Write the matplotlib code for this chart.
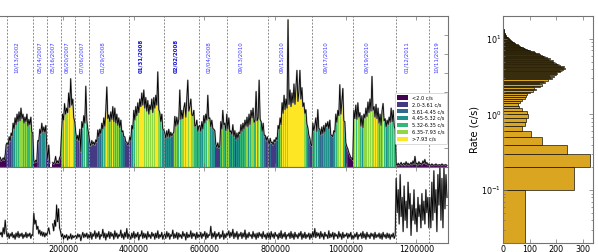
import numpy as np
import matplotlib
matplotlib.use("Agg")
import matplotlib.pyplot as plt
from matplotlib.patches import Patch

# ---------------- data ----------------
seg_starts = [0, 39700, 115000, 154700, 193500, 234000, 273700, 387000,
              486100, 585300, 664600, 779100, 905400, 1021600, 1141700, 1236900]
t_end = 1288400
seg_labels = ["03/07/2001", "10/13/2002", "05/14/2007", "05/16/2007", "06/20/2007",
              "07/06/2007", "01/29/2008", "01/31/2008", "02/02/2008", "02/04/2008",
              "09/13/2010", "09/15/2010", "09/17/2010", "09/19/2010", "01/12/2011",
              "10/11/2019"]
bold_labels = ["01/31/2008", "02/02/2008"]

nan = float("nan")
# count rate (c/s) per time bin, one list per observation
rate_s00 = [1.2, 0.8, 1.3, 0.9, 1.4, 0.8, 1.1, 1.3, 0.8, 1.0, 1.2, 0.9, 1.6, 3.0]
rate_s01 = [3.2, 2.9, 4.0, 3.4, 4.5, 4.1, 5.8, 5.0, 6.5, 5.6, 7.0, 6.0, 7.3, 6.1,
            7.8, 6.4, 7.0, 5.8, 6.6, 6.0, 7.0, 5.4, 6.3, 5.6, 6.6, 4.6, 4.5]
rate_s02 = [0.8, 0.6, 0.9, 0.7, 3.5, 3.4, 5.0, 4.4, 5.8, 4.6, 5.3, 4.6, 5.5, 2.5]
rate_s03 = [1.0, 2.9, 0.5, nan, nan, 0.6, 0.4, 0.7, 1.4, 0.5, 0.8, 0.5, 1.2, 1.5]
rate_s04 = [4.5, 7.0, 6.2, 8.4, 7.0, 7.8, 7.2, 9.8, 7.9, 11.7, 8.2, 9.0, 6.5, 6.0]
rate_s05 = [4.5, 3.6, 4.2, 3.4, 5.0, 2.0, 6.0, 5.2, 6.8, 5.8, 10.7, 6.2, 5.0, 4.2]
rate_s06 = [3.2, 2.8, 3.5, 3.0, 3.3, 2.9, 3.6, 3.3, 4.9, 4.0, 5.0, 4.4, 5.8, 5.0,
            6.5, 5.4, 7.5, 10.6, 6.4, 6.9, 6.0, 7.3, 6.3, 8.0, 6.0, 7.8, 5.8, 7.0,
            5.5, 6.5, 5.2, 6.2, 4.6, 4.8, 4.0, 4.0, 3.3, 3.3, 2.9, 3.2]
rate_s07 = [4.0, 3.5, 5.5, 5.0, 7.5, 6.2, 8.0, 6.8, 8.5, 7.2, 9.0, 8.0, 9.8, 8.2,
            10.2, 7.8, 9.2, 7.4, 8.8, 7.0, 8.2, 7.6, 9.0, 7.2, 9.2, 7.8, 9.5, 8.2,
            12.6, 7.6, 7.2, 6.0, 7.0, 5.0, 4.9]
rate_s08 = [4.5, 3.8, 4.8, 4.0, 5.0, 3.9, 4.6, 4.1, 4.4, 4.6, 6.7, 5.4, 6.6, 5.6,
            6.3, 10.2, 6.3, 7.5, 6.4, 7.8, 8.5, 6.6, 9.0, 11.5, 7.4, 8.0, 9.0, 6.9,
            6.8, 7.5, 5.4, 5.5, 6.2, 4.7, 5.4]
rate_s09 = [5.5, 4.7, 6.0, 5.0, 6.8, 5.8, 7.0, 6.2, 9.5, 6.4, 6.5, 5.3, 6.2, 5.1,
            5.0, 4.8, 3.0, 2.6, 3.2, 2.5, 2.8, 6.0, 5.0, 7.5, 5.6, 5.8, 4.8, 7.0]
rate_s10 = [5.0, 6.5, 4.6, 4.8, 4.3, 5.6, 4.0, 4.8, 3.6, 4.5, 3.8, 4.6, 4.4, 5.6,
            4.7, 5.8, 5.0, 6.2, 5.4, 6.6, 5.3, 7.0, 5.6, 7.5, 6.5, 7.8, 5.9, 6.2,
            10.0, 6.1, 6.5, 11.5, 6.3, 6.0, 4.7, 5.8, 4.2, 4.2, 3.5, 4.0]
rate_s11 = [3.5, 3.0, 3.8, 3.2, 3.3, 2.9, 3.6, 3.3, 3.9, 3.6, 5.5, 5.0, 6.5, 5.6,
            8.5, 7.1, 9.5, 7.6, 9.0, 7.8, 19.5, 8.3, 10.2, 8.0, 9.8, 8.5, 11.0, 8.3,
            10.5, 12.8, 8.7, 10.0, 12.8, 9.0, 10.5, 8.0, 8.5, 7.1, 7.6, 5.7, 5.2,
            4.2, 3.8, 3.0, 2.8]
rate_s12 = [5.8, 4.8, 5.5, 6.5, 4.7, 7.6, 5.1, 5.0, 4.2, 5.3, 4.4, 5.5, 4.6, 5.8,
            5.3, 6.0, 5.0, 6.2, 4.2, 4.2, 4.0, 4.8, 4.6, 7.0, 5.9, 7.5, 6.8, 10.9,
            7.0, 8.5, 10.4, 6.1, 6.0, 3.2, 2.7, 2.4, 1.9, 1.6, 1.2, 1.2, 0.9]
rate_s13 = [7.5, 6.4, 8.2, 6.3, 8.5, 6.6, 7.2, 5.4, 6.8, 5.2, 7.0, 6.5, 7.8, 6.7,
            8.6, 7.2, 9.0, 7.4, 12.0, 7.5, 8.0, 6.6, 8.3, 6.4, 7.8, 5.8, 7.0, 5.5,
            7.5, 8.4, 6.1, 6.4, 5.3, 6.2, 5.6, 6.6, 5.9, 7.8, 6.0, 7.5, 5.4, 5.0]
rate_s14 = [0.4, 0.2, 0.5, 0.2, 0.4, 0.6, 0.2, 0.4, 0.5, 0.2, 0.7, 0.3, 0.5, 0.2,
            0.4, 0.6, 0.3, 0.8, 0.4, 1.4, 0.4, 0.5, 0.3, 0.7, 0.4, 0.5, 0.3, 0.8,
            0.5, 1.0, 0.4, 0.6, 0.3, 0.4]
rate_s15 = [0.3, 0.2, 0.4, 0.3, 0.2, 0.3, 0.4, 0.3, 0.2, 0.3, 0.3, 0.2, 0.4, 0.3,
            0.2, 0.3, 0.3, 0.2]

# lower panel quantity (arbitrary units), same time bins
ratio_s00 = [0.10, 0.15, 0.08, 0.18, 0.12, 0.09, 0.16, 0.11, 0.14, 0.08, 0.20, 0.12, 0.30, 0.15]
ratio_s01 = [0.08, 0.13, 0.06, 0.12, 0.09, 0.14, 0.07, 0.11, 0.05, 0.13, 0.08, 0.15, 0.07, 0.12,
             0.09, 0.13, 0.06, 0.11, 0.08, 0.14, 0.07, 0.12, 0.09, 0.13, 0.06, 0.11, 0.10]
ratio_s02 = [0.39, 0.25, 0.30, 0.18, 0.22, 0.12, 0.17, 0.10, 0.15, 0.09, 0.14, 0.08, 0.13, 0.10]
ratio_s03 = [0.15, 0.20, 0.12, nan, nan, 0.25, 0.16, 0.30, 0.22, 0.50, 0.28, 0.45, 0.20, 0.15]
ratio_s04 = [0.08, 0.12, 0.05, 0.10, 0.07, 0.11, 0.04, 0.09, 0.06, 0.12, 0.05, 0.10, 0.07, 0.09]
ratio_s05 = [0.10, 0.06, 0.12, 0.08, 0.11, 0.03, 0.09, 0.14, 0.07, 0.12, 0.08, 0.13, 0.06, 0.11]
ratio_s06 = [0.07, 0.14, 0.05, 0.12, 0.09, 0.16, 0.06, 0.13, 0.08, 0.15, 0.05, 0.11, 0.09, 0.18,
             0.07, 0.13, 0.04, 0.12, 0.08, 0.15, 0.06, 0.14, 0.09, 0.12, 0.05, 0.16, 0.08, 0.13,
             0.06, 0.11, 0.09, 0.17, 0.07, 0.12, 0.05, 0.14, 0.08, 0.19, 0.06, 0.12]
ratio_s07 = [0.09, 0.05, 0.13, 0.07, 0.15, 0.06, 0.12, 0.08, 0.14, 0.04, 0.11, 0.09, 0.16, 0.06,
             0.13, 0.07, 0.12, 0.05, 0.15, 0.08, 0.11, 0.06, 0.14, 0.09, 0.12, 0.05, 0.13, 0.07,
             0.16, 0.06, 0.11, 0.08, 0.14, 0.05, 0.10]
ratio_s08 = [0.12, 0.06, 0.15, 0.08, 0.13, 0.05, 0.11, 0.09, 0.17, 0.06, 0.12, 0.07, 0.14, 0.05,
             0.13, 0.08, 0.11, 0.06, 0.15, 0.09, 0.12, 0.04, 0.14, 0.07, 0.11, 0.08, 0.16, 0.06,
             0.13, 0.09, 0.12, 0.05, 0.14, 0.07, 0.11]
ratio_s09 = [0.08, 0.14, 0.06, 0.12, 0.09, 0.15, 0.05, 0.13, 0.07, 0.11, 0.10, 0.22, 0.06, 0.13,
             0.08, 0.15, 0.05, 0.12, 0.09, 0.14, 0.06, 0.11, 0.08, 0.16, 0.05, 0.12, 0.07, 0.13]
ratio_s10 = [0.10, 0.16, 0.07, 0.14, 0.09, 0.18, 0.06, 0.13, 0.08, 0.15, 0.05, 0.12, 0.09, 0.14,
             0.06, 0.13, 0.08, 0.17, 0.05, 0.12, 0.07, 0.14, 0.09, 0.11, 0.06, 0.15, 0.08, 0.12,
             0.05, 0.13, 0.07, 0.14, 0.09, 0.12, 0.06, 0.15, 0.08, 0.11, 0.05, 0.13]
ratio_s11 = [0.07, 0.13, 0.05, 0.15, 0.08, 0.12, 0.06, 0.14, 0.09, 0.11, 0.05, 0.13, 0.07, 0.16,
             0.06, 0.12, 0.08, 0.14, 0.05, 0.11, 0.09, 0.13, 0.06, 0.15, 0.07, 0.12, 0.05, 0.14,
             0.08, 0.11, 0.06, 0.13, 0.09, 0.15, 0.05, 0.12, 0.07, 0.14, 0.06, 0.11, 0.08, 0.13,
             0.05, 0.12, 0.07]
ratio_s12 = [0.15, 0.08, 0.19, 0.07, 0.14, 0.09, 0.13, 0.06, 0.15, 0.08, 0.12, 0.05, 0.14, 0.09,
             0.11, 0.06, 0.16, 0.07, 0.12, 0.08, 0.14, 0.05, 0.13, 0.09, 0.11, 0.06, 0.15, 0.08,
             0.12, 0.05, 0.14, 0.07, 0.11, 0.09, 0.13, 0.06, 0.12, 0.08, 0.14, 0.05, 0.10]
ratio_s13 = [0.06, 0.12, 0.08, 0.14, 0.05, 0.11, 0.09, 0.13, 0.06, 0.15, 0.07, 0.12, 0.05, 0.14,
             0.08, 0.11, 0.06, 0.13, 0.09, 0.12, 0.05, 0.14, 0.07, 0.11, 0.08, 0.13, 0.06, 0.12,
             0.05, 0.14, 0.08, 0.11, 0.06, 0.13, 0.07, 0.12, 0.05, 0.11, 0.08, 0.13, 0.06, 0.10]
ratio_s14 = [0.85, 0.40, 0.70, 0.25, 0.90, 0.35, 0.60, 0.15, 0.75, 0.30, 0.55, 0.20, 0.80, 0.45,
             0.65, 0.10, 0.50, 0.30, 0.70, 0.25, 0.45, 0.15, 0.60, 0.35, 0.50, 0.20, 0.65, 0.30,
             0.55, 0.25, 0.70, 0.40, 0.60, 0.20]
ratio_s15 = [0.60, 0.20, 0.80, 0.30, 0.95, 0.40, 0.70, 0.15, 0.90, 0.50, 1.00, 0.30, 0.85, 0.20,
             1.00, 0.45, 0.90, 0.60]

rate_edges = [2.0, 3.61, 4.45, 5.32, 6.35, 7.93]
legend_labels = ["<2.0 c/s", "2.0-3.61 c/s", "3.61-4.45 c/s", "4.45-5.32 c/s",
                 "5.32-6.35 c/s", "6.35-7.93 c/s", ">7.93 c/s"]

# histogram of rates: counts per 0.1 c/s bin starting at 0
hist_bin = 0.1
hist_counts = (
    [81, 267, 327, 242, 148, 105, 72, 81, 88, 95] +
    [92, 70, 62, 58, 64, 72, 84, 88, 92, 100] +
    [112, 125, 118, 138, 145, 135, 158, 150, 170, 185] +
    [178, 192, 175, 198, 205, 200, 214, 222, 210, 226] +
    [234, 225, 218, 228, 214, 205, 212, 198, 190, 195] +
    [184, 188, 175, 170, 176, 162, 165, 155, 150, 158] +
    [145, 140, 132, 136, 124, 120, 112, 116, 105, 102] +
    [98, 94, 90, 86, 80, 84, 76, 72, 68, 65] +
    [62, 60, 56, 52, 55, 48, 46, 44, 42, 40] +
    [38, 36, 34, 33, 30, 28, 27, 25, 24, 22] +
    [21, 20, 18, 17, 16, 15, 14, 13, 12, 11] +
    [10, 10, 9, 8, 8, 7, 7, 6, 6, 5] +
    [5, 5, 4, 4, 4, 3, 3, 3, 3, 2] +
    [2, 2, 2, 2, 1, 1, 1, 1, 1, 1] +
    [1, 1, 0, 1, 0, 1, 0, 0, 1, 0]
)

rate_segs = [rate_s00, rate_s01, rate_s02, rate_s03, rate_s04, rate_s05, rate_s06, rate_s07,
             rate_s08, rate_s09, rate_s10, rate_s11, rate_s12, rate_s13, rate_s14, rate_s15]
ratio_segs = [ratio_s00, ratio_s01, ratio_s02, ratio_s03, ratio_s04, ratio_s05, ratio_s06,
              ratio_s07, ratio_s08, ratio_s09, ratio_s10, ratio_s11, ratio_s12, ratio_s13,
              ratio_s14, ratio_s15]

# ---------------- figure ----------------
W, H = 598, 252
fig = plt.figure(figsize=(W / 100, H / 100), dpi=100)


def fx(px):
    return px / W


def fh(px):
    return px / H


x_left = -7.3
x_right = 447.5
ax1 = fig.add_axes([fx(x_left), 1 - fh(167), fx(x_right - x_left), fh(167 - 16)])
ax2 = fig.add_axes([fx(x_left), 1 - fh(243), fx(x_right - x_left), fh(243 - 167)], sharex=ax1)
ax3 = fig.add_axes([fx(503), 1 - fh(243), fx(593.3 - 503), fh(243 - 16)])

colors = plt.cm.viridis(np.linspace(0, 1, 7))
spine_col = "0.45"

seg_ends = seg_starts[1:] + [t_end]
tc_all, r_all, q_all = [], [], []
for s, e, r, q in zip(seg_starts, seg_ends, rate_segs, ratio_segs):
    r = np.array(r, float)
    q = np.array(q, float)
    n = len(r)
    dt = (e - s) / n
    t = s + np.arange(n) * dt
    cat = np.digitize(np.nan_to_num(r), rate_edges)
    ok = ~np.isnan(r)
    ax1.bar(t[ok], r[ok], width=dt, align="edge", color=colors[cat[ok]], linewidth=0)
    tc_all.append(t + dt / 2)
    r_all.append(r)
    q_all.append(q)

tc_all = np.concatenate(tc_all)
r_all = np.concatenate(r_all)
q_all = np.concatenate(q_all)

ax1.plot(tc_all, r_all, color="0.68", lw=1.2, zorder=3)
ax1.plot(tc_all, r_all, color="k", lw=0.6, zorder=4)
ax2.plot(tc_all, q_all, color="0.68", lw=1.2, zorder=3)
ax2.plot(tc_all, q_all, color="k", lw=0.6, zorder=4)

for s in seg_starts[1:]:
    for ax in (ax1, ax2):
        ax.axvline(s, color="0.55", lw=0.7, ls=(0, (2, 1.5)), zorder=1)

for s, e, lab in zip(seg_starts, seg_ends, seg_labels):
    xl = s + 0.27 * (e - s) + 6000
    bold = lab in bold_labels
    ax1.text(xl, 0.622, lab, transform=ax1.get_xaxis_transform(), rotation=90,
             ha="center", va="bottom", fontsize=4,
             color="#1010d0" if bold else "#3a3aff",
             fontweight="bold" if bold else "normal", zorder=5)

handles = [Patch(facecolor=colors[i], edgecolor="none", label=legend_labels[i]) for i in range(7)]
leg = ax1.legend(handles=handles, loc="upper right", bbox_to_anchor=(fx(446.5), 1 - fh(93)),
                 bbox_transform=fig.transFigure, fontsize=3.6, handlelength=2.2,
                 handleheight=0.9, labelspacing=0.38, borderpad=0.45, handletextpad=0.7,
                 framealpha=1, fancybox=True, edgecolor="0.8", borderaxespad=0)
leg.get_frame().set_linewidth(0.5)

ax1.set_xlim(0, t_end)
ax1.set_ylim(0, 20)
ax1.set_yticks(np.arange(0, 20.1, 2.5))
ax1.tick_params(axis="both", direction="in", right=True, top=True, labelbottom=False,
                labelleft=False, labelsize=5.8, length=3, width=0.5, color=spine_col)

ax2.set_ylim(0, 1)
ax2.set_yticks([0, 0.5, 1.0])
ax2.set_xticks(np.arange(0, 1200001, 200000))
ax2.ticklabel_format(axis="x", style="plain", useOffset=False)
ax2.tick_params(axis="both", direction="in", right=True, top=True, labelsize=5.8,
                labelleft=False, length=3, width=0.5, pad=1.2, color=spine_col)

edges = np.arange(len(hist_counts)) * hist_bin
ax3.barh(edges, hist_counts, height=hist_bin, align="edge", color="goldenrod",
         edgecolor=(0, 0, 0, 0.75), linewidth=0.6)
ax3.set_yscale("log")
ax3.set_ylim(0.02, 20)
ax3.set_xlim(0, 340)
ax3.set_xticks([0, 100, 200, 300])
ax3.set_ylabel("Rate (c/s)", fontsize=7, labelpad=1)
ax3.tick_params(axis="both", which="both", direction="in", right=True, top=True,
                labelsize=5.8, pad=1.2, width=0.5, color=spine_col)
ax3.tick_params(which="major", length=3)
ax3.tick_params(which="minor", length=1.6)

for ax in (ax1, ax2, ax3):
    for sp in ax.spines.values():
        sp.set_color(spine_col)
        sp.set_linewidth(0.8)

fig.savefig("out.png", dpi=100)
